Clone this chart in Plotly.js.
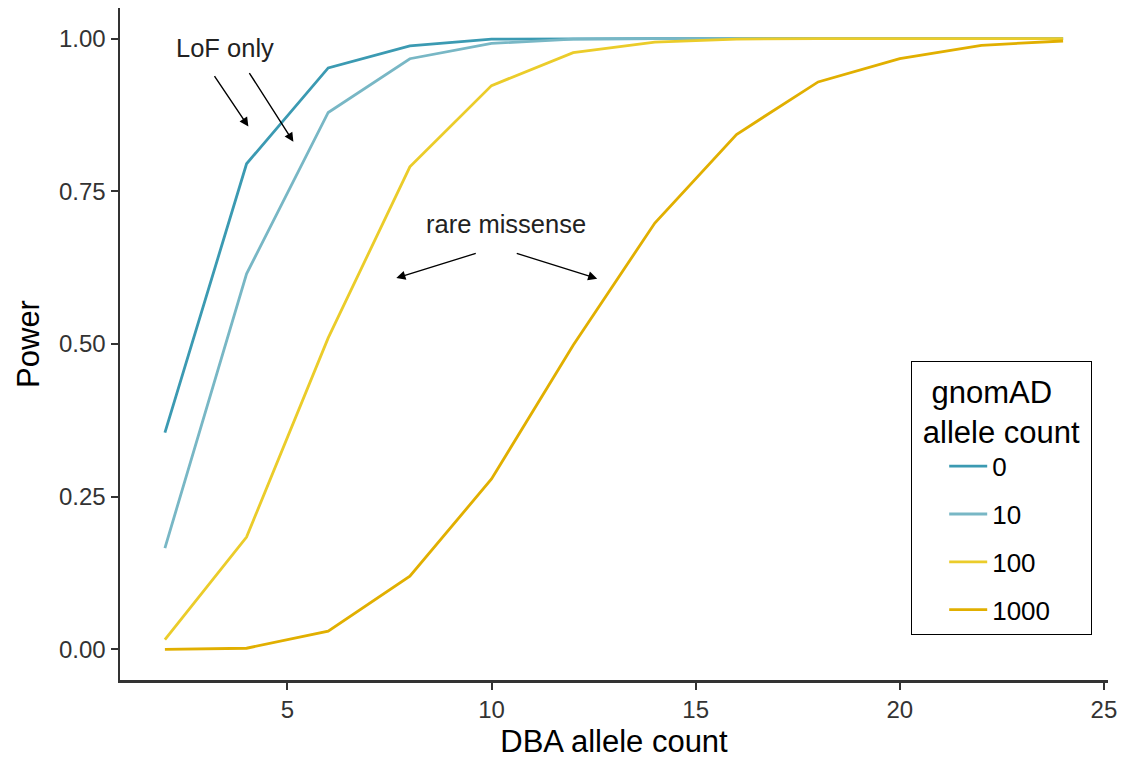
<!DOCTYPE html>
<html>
<head>
<meta charset="utf-8">
<script src="https://cdn.plot.ly/plotly-3.0.1.min.js"></script>
<style>html,body{margin:0;padding:0;background:#fff;}#chart{width:1128px;height:763px;}</style>
</head>
<body>
<div id="chart"></div>
<script>
const dbaCount = [2, 4, 6, 8, 10, 12, 14, 16, 18, 20, 22, 24];
const seriesNames = ["0", "10", "100", "1000"];
const power0 = [0.355, 0.795, 0.952, 0.988, 0.999, 1.0, 1.0, 1.0, 1.0, 1.0, 1.0, 1.0];
const power10 = [0.166, 0.615, 0.879, 0.967, 0.992, 0.999, 1.0, 1.0, 1.0, 1.0, 1.0, 1.0];
const power100 = [0.016, 0.184, 0.51, 0.79, 0.923, 0.977, 0.994, 0.999, 1.0, 1.0, 1.0, 1.0];
const power1000 = [0.0, 0.002, 0.03, 0.12, 0.279, 0.498, 0.698, 0.843, 0.929, 0.967, 0.989, 0.996];
const colors = ["#3B9AB2", "#78B7C5", "#EBCC2A", "#E1AF00"];
const allSeries = [power0, power10, power100, power1000];
const xTicks = [5, 10, 15, 20, 25];
const yTicks = [0, 0.25, 0.5, 0.75, 1];
const yTickText = ["0.00", "0.25", "0.50", "0.75", "1.00"];

const font = "Liberation Sans, Arial, Helvetica, sans-serif";

const traces = allSeries.map((vals, i) => ({
  x: dbaCount, y: vals, type: "scatter", mode: "lines",
  name: seriesNames[i], legendgroup: "g" + i,
  line: {color: colors[i], width: 2.8}
}));

function arrow(x0, y0, x1, y1) {
  return {x: x1, y: y1, ax: x0, ay: y0, xref: "x", yref: "y", axref: "x", ayref: "y",
    text: "", showarrow: true, arrowhead: 2, arrowsize: 1.3, arrowwidth: 1.4, arrowcolor: "#000", standoff: 0, startstandoff: 0};
}

const layout = {
  width: 1128, height: 763,
  margin: {l: 120, r: 20, t: 8, b: 83},
  paper_bgcolor: "#fff", plot_bgcolor: "#fff",
  font: {family: font, color: "#000"},
  showlegend: true,
  xaxis: {
    range: [0.9, 25.1], tickvals: xTicks, ticktext: xTicks.map(String),
    showgrid: false, zeroline: false, showline: true, linecolor: "#333", linewidth: 2.5,
    ticks: "outside", ticklen: 7, tickwidth: 2, tickcolor: "#333",
    tickfont: {size: 24, color: "#333", family: font},
    title: {text: "DBA allele count", font: {size: 31, color: "#000", family: font}, standoff: 8}
  },
  yaxis: {
    range: [-0.05, 1.05], tickvals: yTicks, ticktext: yTickText,
    showgrid: false, zeroline: false, showline: true, linecolor: "#333", linewidth: 2.5,
    ticks: "outside", ticklen: 7, tickwidth: 2, tickcolor: "#333",
    tickfont: {size: 24, color: "#333", family: font},
    title: {text: "Power", font: {size: 31, color: "#000", family: font}, standoff: 10}
  },
  legend: {
    x: 0.8006, y: 0.4747, xanchor: "left", yanchor: "top",
    bordercolor: "#000", borderwidth: 1.2, bgcolor: "#fff",
    traceorder: "grouped", tracegroupgap: 11, indentation: 32, itemwidth: 38,
    font: {size: 26, family: font, color: "#000"},
    title: {text: "\u00A0\u00A0gnomAD<br>\u00A0allele count\u00A0", side: "top", font: {size: 31, family: font, color: "#000"}}
  },
  annotations: [
    {x: 3.48, y: 0.984, xref: "x", yref: "y", text: "LoF only", showarrow: false, font: {size: 25.5, color: "#222", family: font}},
    arrow(3.19, 0.941, 4.045, 0.856),
    arrow(4.045, 0.946, 5.147, 0.831),
    {x: 10.35, y: 0.697, xref: "x", yref: "y", text: "rare missense", showarrow: false, font: {size: 25.5, color: "#222", family: font}},
    arrow(9.651, 0.649, 7.668, 0.608),
    arrow(10.581, 0.649, 12.589, 0.607)
  ]
};

Plotly.newPlot("chart", traces, layout, {displayModeBar: false, staticPlot: true});
</script>
</body>
</html>
